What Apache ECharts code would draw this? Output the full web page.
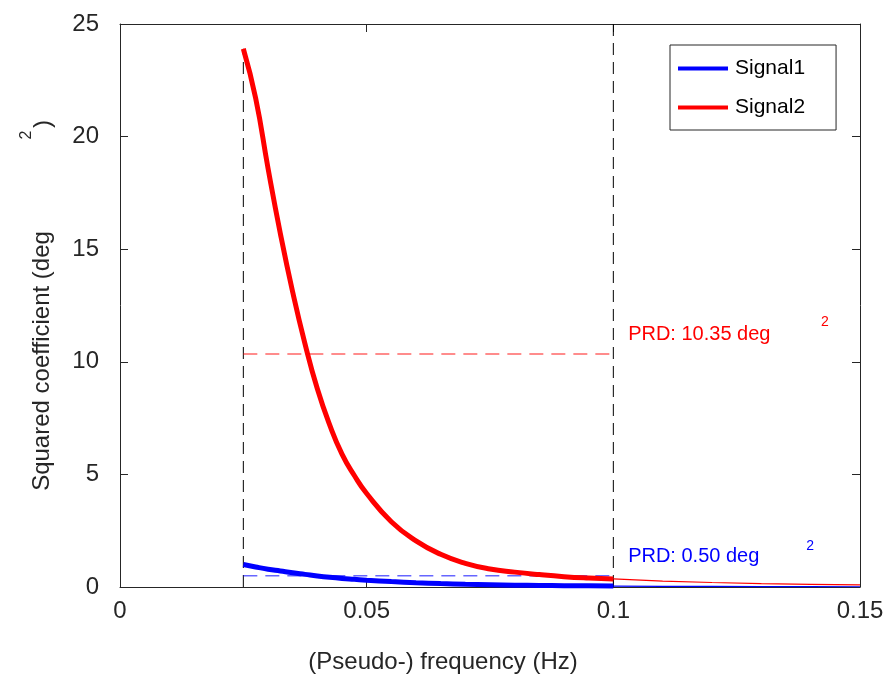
<!DOCTYPE html>
<html>
<head>
<meta charset="utf-8">
<script src="https://cdn.jsdelivr.net/npm/echarts@6/dist/echarts.min.js"></script>
<style>
html,body{margin:0;padding:0;background:#fff;}
#chart{width:891px;height:678px;}
</style>
</head>
<body>
<div id="chart"></div>
<script>
// Frequencies (Hz) in the analysed band
const freqBand = [0.025, 0.0275, 0.03, 0.0325, 0.035, 0.0375, 0.04, 0.0425, 0.045, 0.0475, 0.05, 0.055, 0.06, 0.065, 0.07, 0.075, 0.08, 0.085, 0.09, 0.095, 0.1];
const signal1Band = [1.0, 0.89, 0.79, 0.71, 0.63, 0.56, 0.49, 0.43, 0.38, 0.34, 0.30, 0.24, 0.19, 0.15, 0.12, 0.10, 0.08, 0.07, 0.06, 0.05, 0.04];
const signal2Band = [23.9, 21.7, 18.6, 15.7, 13.1, 10.8, 8.8, 7.2, 5.9, 4.95, 4.15, 2.9, 2.05, 1.45, 1.05, 0.80, 0.66, 0.55, 0.46, 0.40, 0.36];
// Frequencies above the band
const freqOut = [0.1, 0.11, 0.12, 0.13, 0.14, 0.15];
const signal1Out = [0.04, 0.03, 0.025, 0.02, 0.015, 0.01];
const signal2Out = [0.36, 0.26, 0.20, 0.15, 0.12, 0.09];
// Band limits and PRD values
const bandLimits = [0.025, 0.1];
const prd1 = 0.50;
const prd2 = 10.35;
const xTicks = [0, 0.05, 0.1, 0.15];
const yTicks = [0, 5, 10, 15, 20, 25];

const pairs = (xs, ys) => xs.map((x, i) => [x, ys[i]]);
const TXT = '#262626';
const FONT = '"Liberation Sans", Arial, Helvetica, sans-serif';

const chart = echarts.init(document.getElementById('chart'), null, {renderer: 'canvas'});

function axisCommon() {
  return {
    axisLine: {show: true, onZero: false, lineStyle: {color: TXT, width: 1}},
    axisTick: {show: true, inside: true, length: 8, lineStyle: {color: TXT}},
    splitLine: {show: false}
  };
}

const option = {
  animation: false,
  backgroundColor: '#fff',
  grid: {left: 120, right: 31, top: 24, bottom: 91, containLabel: false},
  xAxis: [
    Object.assign({
      type: 'value', min: xTicks[0], max: xTicks[xTicks.length - 1], interval: 0.05,
      axisLabel: {color: TXT, fontSize: 24, fontFamily: FONT, margin: 12,
        formatter: v => String(+v.toFixed(4))}
    }, axisCommon()),
    Object.assign({
      type: 'value', position: 'top', min: xTicks[0], max: xTicks[xTicks.length - 1], interval: 0.05,
      axisLabel: {show: false}
    }, axisCommon())
  ],
  yAxis: [
    Object.assign({
      type: 'value', min: yTicks[0], max: yTicks[yTicks.length - 1], interval: 5,
      axisLabel: {color: TXT, fontSize: 24, fontFamily: FONT, margin: 21}
    }, axisCommon()),
    Object.assign({
      type: 'value', position: 'right', min: yTicks[0], max: yTicks[yTicks.length - 1], interval: 5,
      axisLabel: {show: false}
    }, axisCommon())
  ],
  legend: {
    data: [{name: 'Signal1', icon: 'rect'}, {name: 'Signal2', icon: 'rect'}],
    orient: 'vertical',
    left: 670, top: 45,
    width: 167,
    padding: [13, 31, 12, 8],
    itemWidth: 50, itemHeight: 4, itemGap: 18,
    backgroundColor: '#fff',
    borderColor: TXT, borderWidth: 1, borderRadius: 0,
    textStyle: {color: '#000', fontSize: 21, fontFamily: FONT, padding: [0, 0, 0, 2], lineHeight: 21}
  },
  series: [
    {
      name: 'Band lower', type: 'line', symbol: 'none', silent: true, z: 1,
      data: [[bandLimits[0], 0], [bandLimits[0], signal2Band[0]]],
      lineStyle: {color: '#000', width: 1, type: [12, 7]}
    },
    {
      name: 'Band upper', type: 'line', symbol: 'none', silent: true, z: 1,
      data: [[bandLimits[1], 0], [bandLimits[1], yTicks[yTicks.length - 1]]],
      lineStyle: {color: '#000', width: 1, type: [12, 7]}
    },
    {
      name: 'PRD2', type: 'line', symbol: 'none', silent: true, z: 2,
      data: [[bandLimits[0], prd2], [bandLimits[1], prd2]],
      lineStyle: {color: 'rgba(255,0,0,0.6)', width: 1.5, type: [14, 8]}
    },
    {
      name: 'PRD1', type: 'line', symbol: 'none', silent: true, z: 2,
      data: [[bandLimits[0], prd1], [bandLimits[1], prd1]],
      lineStyle: {color: 'rgba(0,0,255,0.6)', width: 1.5, type: [14, 8]}
    },
    {
      name: 'Signal2 out', type: 'line', symbol: 'none', silent: true, z: 3,
      data: pairs(freqOut, signal2Out),
      lineStyle: {color: '#ff0000', width: 1.2}
    },
    {
      name: 'Signal1 out', type: 'line', symbol: 'none', silent: true, z: 3,
      data: pairs(freqOut, signal1Out),
      lineStyle: {color: '#0000ff', width: 1.2}
    },
    {
      name: 'Signal1', type: 'line', symbol: 'none', smooth: 0.5, z: 4,
      data: pairs(freqBand, signal1Band),
      itemStyle: {color: '#0000ff'},
      lineStyle: {color: '#0000ff', width: 5}
    },
    {
      name: 'Signal2', type: 'line', symbol: 'none', smooth: 0.5, z: 5,
      data: pairs(freqBand, signal2Band),
      itemStyle: {color: '#ff0000'},
      lineStyle: {color: '#ff0000', width: 5}
    }
  ]
};
chart.setOption(option);

// Annotations positioned from data coordinates
const p = (x, y) => chart.convertToPixel({xAxisIndex: 0, yAxisIndex: 0}, [x, y]);
const t1 = p(0.103, 11.2), s1 = p(0.1429, 11.75);
const t2 = p(0.103, 1.36), s2 = p(0.1399, 1.82);
chart.setOption({
  graphic: [
    {type: 'text', x: t1[0], y: t1[1], style: {text: 'PRD: 10.35 deg', fill: '#ff0000', font: '20px ' + FONT, verticalAlign: 'middle', align: 'left'}},
    {type: 'text', x: s1[0], y: s1[1], style: {text: '2', fill: '#ff0000', font: '14px ' + FONT, verticalAlign: 'middle', align: 'center'}},
    {type: 'text', x: t2[0], y: t2[1], style: {text: 'PRD: 0.50 deg', fill: '#0000ff', font: '20px ' + FONT, verticalAlign: 'middle', align: 'left'}},
    {type: 'text', x: s2[0], y: s2[1], style: {text: '2', fill: '#0000ff', font: '14px ' + FONT, verticalAlign: 'middle', align: 'center'}},
    {type: 'text', x: 443, y: 662, style: {text: '(Pseudo-) frequency (Hz)', fill: TXT, font: '24px ' + FONT, verticalAlign: 'middle', align: 'center'}},
    {type: 'text', x: 42, y: 361, rotation: Math.PI / 2, style: {text: 'Squared coefficient (deg', fill: TXT, font: '24px ' + FONT, verticalAlign: 'middle', align: 'center'}},
    {type: 'text', x: 27, y: 135, rotation: Math.PI / 2, style: {text: '2', fill: TXT, font: '16px ' + FONT, verticalAlign: 'middle', align: 'center'}},
    {type: 'text', x: 43, y: 124, rotation: Math.PI / 2, style: {text: ')', fill: TXT, font: '24px ' + FONT, verticalAlign: 'middle', align: 'center'}}
  ]
});
</script>
</body>
</html>
